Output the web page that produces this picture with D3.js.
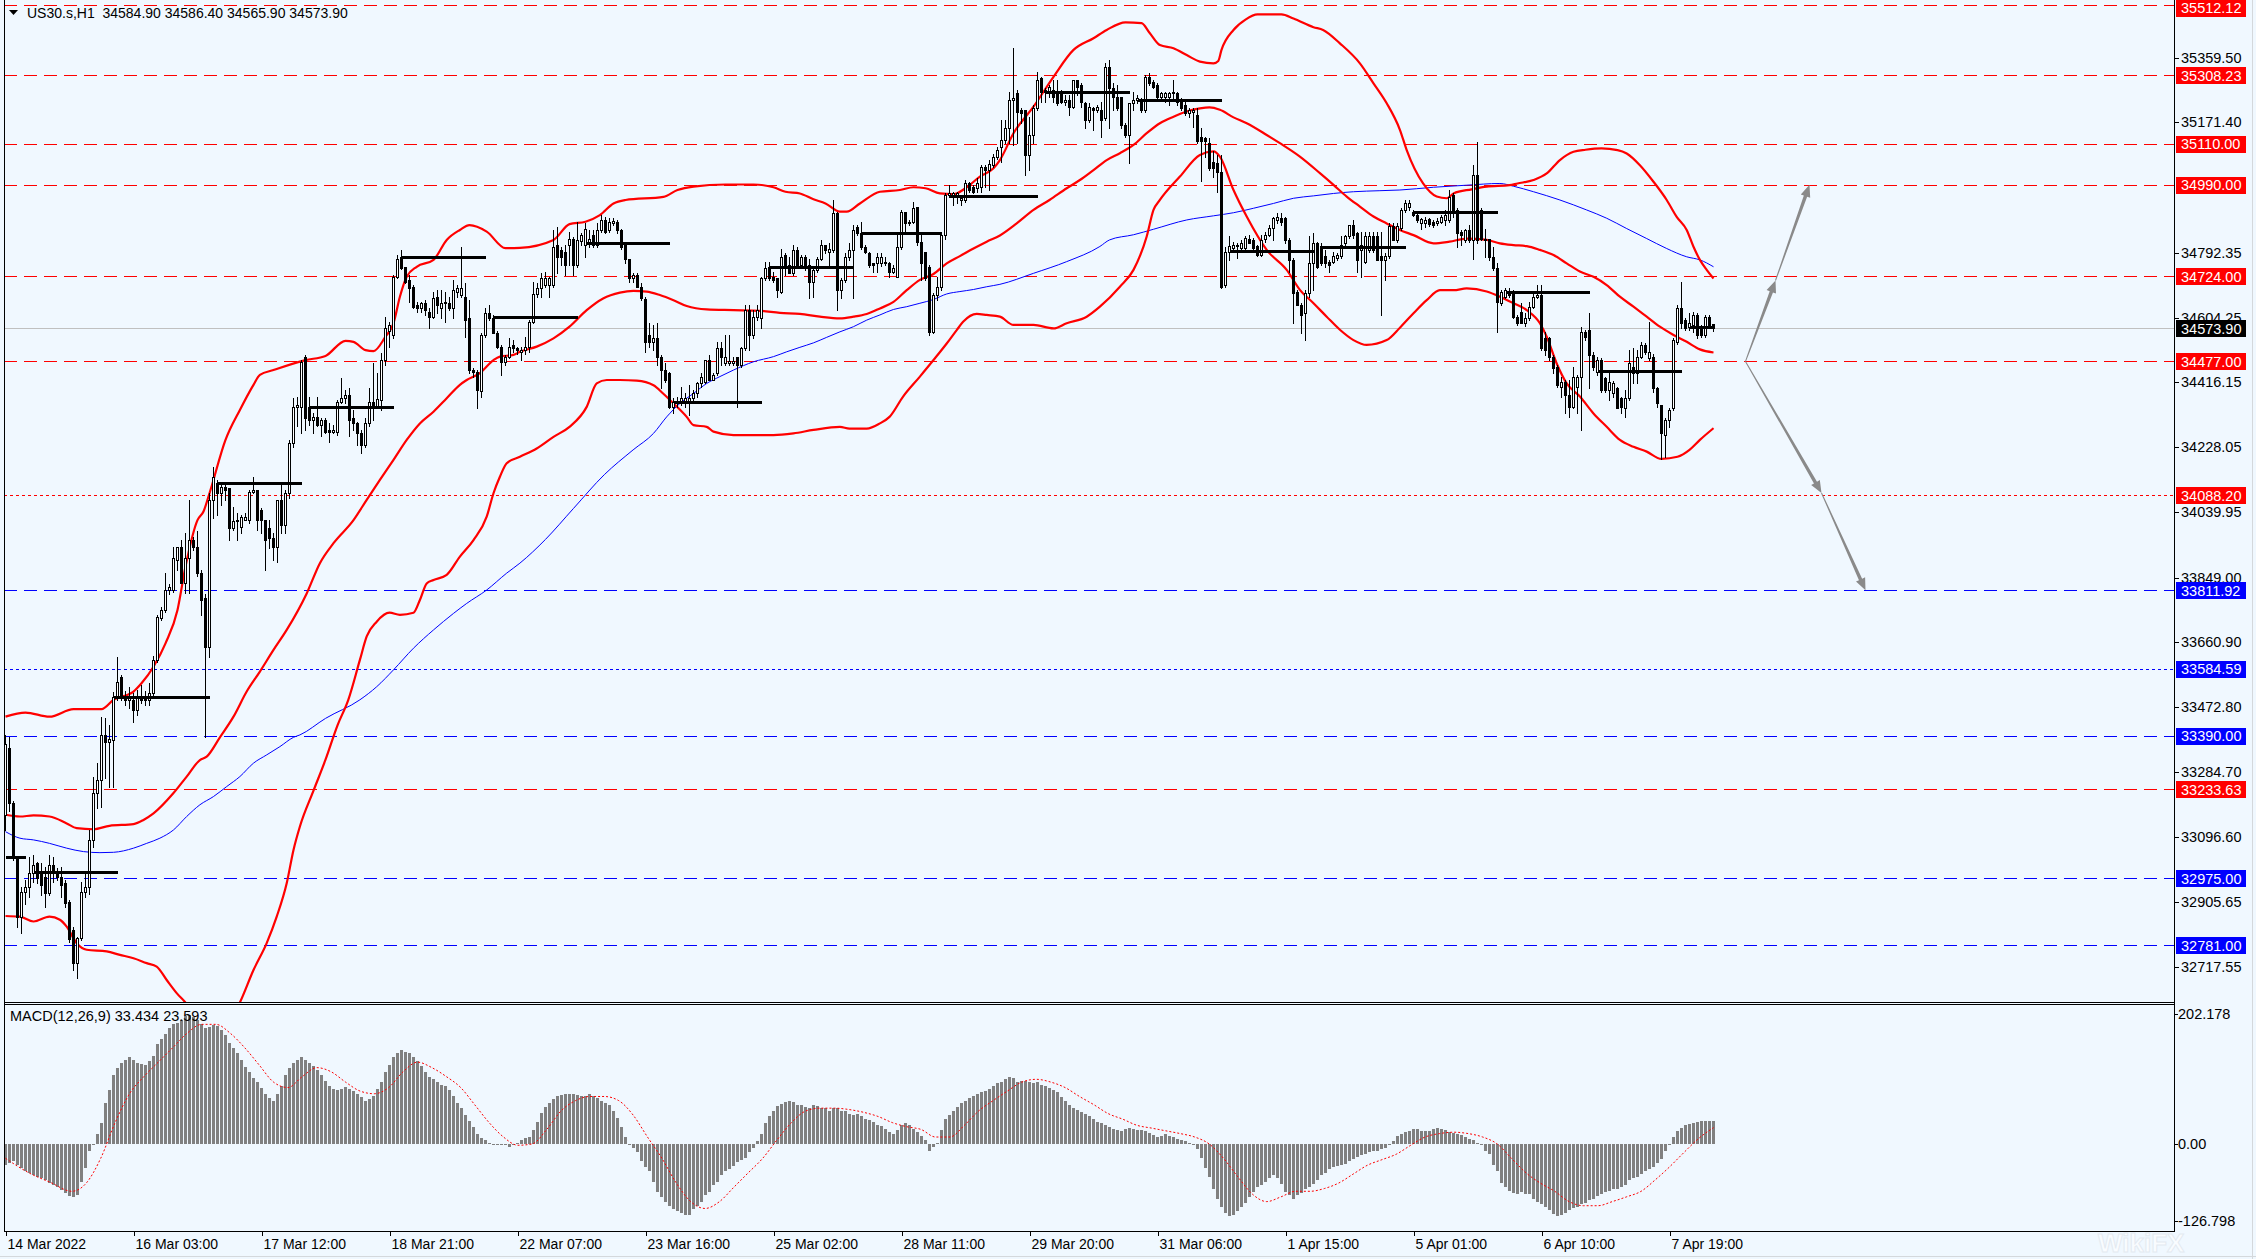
<!DOCTYPE html>
<html><head><meta charset="utf-8">
<script src="https://cdn.jsdelivr.net/npm/d3@7"></script>
<style>
html,body{margin:0;padding:0;background:#F0F8FF;overflow:hidden;}
svg{display:block;}
text{font-family:"Liberation Sans",Arial,sans-serif;}
</style></head><body>
<svg id="c" width="2256" height="1259"></svg>
<script>
// ---------------- DATA ----------------
const headerText = "US30.s,H1  34584.90 34586.40 34565.90 34573.90";
const macdTitle = "MACD(12,26,9) 33.434 23.593";
const lastPrice = 34573.90;

const opens = [
33160,33353,33193,33038,32864,32937,32951,32990,33019,32995,
32980,32932,33014,32995,32980,32961,32907,32825,32729,32801,
32937,32951,33087,33222,33260,33392,33370,33377,33503,33561,
33503,33494,33494,33464,33503,33503,33494,33513,33610,33731,
33755,33813,33813,33900,33939,33833,33905,33958,33939,33862,
33789,33648,34075,34123,34094,34113,34108,33992,34012,33997,
34017,34017,34099,34104,34045,34017,33992,33963,33939,34075,
34002,34094,34239,34346,34346,34491,34346,34307,34317,34292,
34307,34278,34273,34273,34360,34370,34380,34312,34297,34270,
34234,34297,34360,34346,34365,34481,34565,34554,34723,34781,
34752,34713,34694,34641,34631,34646,34622,34607,34665,34631,
34646,34646,34631,34680,34670,34665,34602,34452,34447,34390,
34554,34617,34602,34559,34520,34476,34491,34525,34515,34505,
34510,34520,34592,34673,34689,34699,34699,34699,34815,34801,
34796,34815,34834,34757,34828,34815,34820,34844,34815,34859,
34888,34859,34878,34883,34859,34815,34776,34718,34728,34694,
34657,34554,34534,34544,34491,34452,34443,34345,34355,34360,
34360,34360,34370,34384,34413,34418,34481,34423,34443,34515,
34471,34471,34471,34491,34467,34515,34626,34554,34607,34602,
34718,34752,34723,34718,34680,34786,34757,34733,34801,34757,
34781,34757,34709,34743,34776,34815,34796,34801,34907,34684,
34714,34781,34801,34868,34849,34810,34792,34762,34762,34762,
34767,34762,34738,34723,34810,34912,34878,34883,34926,34825,
34796,34752,34563,34670,34694,34844,34960,34960,34956,34946,
34946,34994,34985,34980,34985,35043,35033,35047,35072,35101,
35120,35154,35237,35256,35208,35208,35077,35135,35212,35300,
35266,35261,35266,35261,35261,35232,35237,35217,35295,35280,
35227,35178,35212,35208,35208,35183,35333,35270,35246,35246,
35164,35135,35227,35237,35232,35208,35304,35290,35280,35246,
35246,35246,35256,35256,35237,35222,35198,35203,35193,35130,
35125,35111,35057,35053,35028,34699,34796,34806,34811,34806,
34806,34832,34830,34811,34786,34832,34845,34864,34888,34893,
34893,34830,34772,34680,34641,34617,34675,34762,34820,34811,
34782,34767,34767,34777,34782,34820,34840,34874,34849,34801,
34767,34801,34840,34840,34782,34772,34782,34869,34830,34864,
34917,34926,34912,34902,34878,34878,34890,34883,34878,34883,
34888,34888,34960,34917,34854,34830,34859,34830,35018,34917,
34834,34834,34781,34747,34646,34665,34680,34680,34607,34620,
34588,34602,34636,34665,34670,34544,34544,34491,34462,34404,
34418,34380,34345,34404,34433,34563,34568,34496,34447,34481,
34428,34394,34384,34399,34370,34341,34370,34462,34443,34491,
34525,34486,34491,34399,34350,34263,34307,34341,34534,34631,
34597,34578,34583,34612,34578,34554,34607,34584.9];

const highs = [
33392,33385,33200,33040,32951,32971,33038,33043,33024,33019,
33009,33043,33038,33005,33009,32971,32912,32835,32805,32966,
32990,33116,33271,33310,33445,33440,33420,33518,33619,33566,
33520,33530,33513,33523,33537,33520,33542,33620,33740,33765,
33862,33830,33939,33939,33958,33978,34075,33968,33983,33872,
33800,34094,34171,34133,34128,34123,34108,34055,34036,34031,
34036,34104,34142,34104,34050,34017,34016,33978,34075,34128,
34104,34249,34370,34375,34481,34496,34375,34326,34375,34312,
34312,34297,34292,34365,34428,34394,34399,34336,34302,34278,
34312,34399,34472,34443,34501,34607,34593,34728,34785,34801,
34752,34728,34699,34651,34651,34656,34631,34680,34685,34685,
34680,34665,34714,34699,34810,34704,34656,34457,34452,34559,
34631,34641,34612,34564,34525,34496,34544,34539,34520,34520,
34549,34597,34709,34704,34733,34738,34723,34859,34868,34810,
34815,34854,34839,34883,34849,34878,34859,34859,34878,34902,
34897,34893,34893,34888,34863,34820,34776,34733,34733,34704,
34665,34588,34583,34588,34496,34471,34447,34370,34375,34404,
34384,34408,34394,34418,34443,34481,34496,34443,34534,34534,
34554,34554,34491,34491,34520,34641,34641,34626,34641,34723,
34767,34767,34738,34718,34805,34791,34781,34815,34810,34786,
34786,34776,34747,34781,34830,34815,34820,34946,34912,34718,
34791,34820,34873,34873,34883,34815,34796,34762,34791,34791,
34781,34767,34757,34849,34917,34912,34888,34941,34926,34844,
34796,34757,34675,34723,34844,34965,34989,34970,34970,34956,
35004,34999,34989,35009,35047,35047,35062,35081,35100,35178,
35178,35261,35387,35266,35212,35208,35188,35222,35319,35304,
35270,35280,35295,35295,35266,35251,35251,35295,35295,35285,
35232,35227,35217,35222,35232,35343,35353,35285,35280,35246,
35169,35227,35261,35250,35241,35309,35314,35295,35285,35261,
35261,35261,35295,35261,35241,35237,35212,35212,35212,35154,
35130,35125,35087,35077,35077,34810,34840,34825,34820,34830,
34840,34845,34835,34815,34845,34854,34874,34898,34907,34907,
34898,34835,34777,34685,34646,34685,34840,34849,34825,34820,
34801,34772,34796,34791,34840,34845,34874,34888,34854,34854,
34854,34854,34854,34854,34854,34791,34878,34878,34878,34922,
34946,34946,34917,34907,34893,34897,34893,34888,34893,34902,
34917,34975,34965,34922,34859,34863,34873,35047,35115,34922,
34863,34834,34810,34762,34684,34689,34689,34684,34612,34646,
34617,34650,34680,34699,34699,34563,34549,34496,34467,34433,
34423,34423,34462,34438,34578,34568,34617,34505,34490,34486,
34433,34447,34420,34404,34375,34394,34510,34515,34510,34534,
34530,34592,34500,34404,34350,34312,34341,34544,34641,34709,
34602,34617,34621,34617,34583,34612,34612,34586.4];

const lows = [
33116,33170,33030,32835,32816,32900,32922,32966,32961,32927,
32893,32927,32966,32970,32922,32893,32790,32709,32685,32795,
32922,32930,33067,33180,33184,33266,33242,33242,33494,33494,
33480,33470,33430,33450,33485,33480,33479,33500,33605,33726,
33750,33800,33808,33870,33833,33804,33804,33930,33855,33740,
33387,33619,34021,34031,34060,34075,33958,33987,33958,33978,
34016,34007,34094,33987,33978,33871,33934,33900,33895,33978,
33978,34080,34229,34288,34268,34278,34292,34268,34288,34259,
34268,34244,34268,34263,34355,34355,34259,34278,34234,34210,
34229,34288,34307,34341,34336,34467,34520,34544,34718,34745,
34705,34651,34631,34622,34622,34612,34573,34602,34617,34602,
34593,34627,34602,34665,34665,34549,34442,34433,34341,34375,
34549,34597,34559,34515,34438,34466,34486,34505,34500,34481,
34500,34505,34588,34665,34665,34694,34665,34694,34733,34757,
34728,34757,34728,34752,34815,34781,34810,34810,34810,34854,
34849,34854,34873,34849,34805,34762,34709,34709,34694,34655,
34505,34520,34510,34467,34399,34418,34341,34326,34345,34350,
34345,34321,34355,34375,34404,34413,34423,34423,34438,34467,
34467,34467,34467,34345,34462,34510,34510,34544,34597,34573,
34714,34714,34709,34665,34675,34728,34733,34728,34747,34747,
34743,34660,34665,34738,34772,34791,34757,34796,34626,34660,
34709,34772,34660,34844,34805,34791,34752,34738,34738,34755,
34757,34723,34733,34723,34805,34854,34873,34878,34815,34714,
34714,34554,34559,34655,34684,34834,34956,34931,34936,34931,
34941,34970,34965,34970,34970,34985,34975,35043,35065,35057,
35111,35111,35106,35111,35169,35019,35033,35111,35208,35232,
35232,35246,35232,35222,35227,35222,35193,35212,35251,35217,
35154,35174,35150,35203,35130,35178,35154,35208,35208,35154,
35130,35053,35208,35227,35203,35203,35280,35270,35241,35237,
35232,35222,35237,35222,35208,35193,35188,35159,35111,35000,
35072,35033,35014,34970,34689,34694,34772,34796,34777,34801,
34801,34820,34801,34782,34782,34825,34840,34830,34878,34874,
34820,34738,34588,34641,34559,34539,34665,34685,34748,34757,
34752,34738,34762,34772,34777,34811,34835,34835,34738,34723,
34762,34796,34796,34772,34612,34714,34777,34830,34825,34859,
34912,34917,34900,34883,34863,34868,34871,34868,34873,34878,
34873,34883,34897,34810,34815,34825,34825,34776,34820,34830,
34781,34772,34743,34563,34641,34660,34665,34602,34583,34588,
34580,34597,34631,34660,34510,34496,34481,34443,34404,34375,
34326,34316,34341,34326,34278,34540,34399,34452,34438,34389,
34389,34365,34375,34341,34326,34316,34365,34413,34413,34486,
34500,34481,34389,34345,34195,34200,34287,34336,34529,34573,
34568,34568,34563,34544,34549,34549,34573,34565.9];

const closes = [
33365,33193,33034,32864,32937,32951,32990,33014,32975,32956,
32932,33014,32995,32980,32956,32903,32800,32729,32801,32937,
32951,33087,33222,33260,33392,33370,33380,33503,33547,33503,
33494,33503,33464,33498,33494,33494,33513,33610,33736,33755,
33813,33823,33905,33939,33833,33905,33958,33939,33862,33784,
33648,34075,34142,34094,34113,34104,33992,34012,34017,34026,
34026,34099,34104,34017,34017,33958,33963,33939,34075,34002,
34094,34239,34346,34350,34476,34312,34307,34317,34293,34307,
34273,34273,34278,34360,34370,34380,34307,34297,34268,34234,
34297,34360,34351,34367,34481,34573,34583,34723,34775,34747,
34709,34689,34636,34631,34646,34626,34607,34660,34641,34646,
34651,34631,34684,34689,34689,34597,34452,34447,34394,34554,
34617,34602,34559,34520,34476,34491,34520,34515,34510,34510,
34520,34592,34673,34689,34718,34718,34718,34810,34781,34781,
34757,34834,34757,34830,34844,34863,34834,34815,34859,34888,
34854,34883,34885,34859,34810,34776,34718,34728,34694,34660,
34534,34534,34544,34491,34452,34423,34345,34360,34360,34370,
34370,34370,34384,34413,34433,34481,34423,34438,34515,34491,
34491,34479,34479,34467,34515,34626,34554,34607,34626,34718,
34747,34718,34714,34684,34781,34757,34733,34801,34752,34781,
34757,34709,34743,34776,34815,34801,34805,34907,34684,34714,
34781,34801,34859,34849,34810,34796,34757,34757,34781,34781,
34762,34738,34747,34810,34912,34878,34883,34922,34825,34762,
34718,34563,34670,34694,34844,34960,34965,34965,34965,34951,
34994,34975,34970,34994,35043,35033,35052,35072,35091,35120,
35154,35237,35241,35203,35198,35077,35135,35212,35295,35261,
35261,35275,35246,35227,35232,35237,35217,35295,35275,35232,
35178,35217,35208,35215,35178,35333,35270,35246,35212,35164,
35135,35227,35237,35241,35208,35304,35285,35275,35246,35256,
35256,35256,35261,35232,35212,35198,35208,35208,35116,35116,
35116,35038,35038,35028,34694,34796,34811,34815,34815,34820,
34835,34822,34806,34786,34830,34845,34864,34893,34898,34883,
34830,34772,34675,34641,34612,34675,34762,34820,34752,34762,
34762,34757,34782,34786,34815,34840,34874,34845,34772,34815,
34840,34840,34801,34772,34772,34782,34869,34830,34869,34917,
34936,34936,34902,34888,34890,34888,34876,34873,34885,34897,
34902,34956,34917,34849,34844,34859,34830,35018,34830,34834,
34830,34781,34747,34650,34680,34684,34670,34607,34588,34588,
34602,34636,34665,34670,34515,34510,34491,34457,34408,34418,
34380,34345,34433,34433,34563,34549,34496,34462,34481,34394,
34394,34418,34413,34341,34345,34370,34471,34443,34491,34525,
34505,34505,34399,34355,34268,34307,34336,34539,34631,34588,
34573,34588,34612,34554,34554,34607,34583,34573.9];

// MACD histogram (one value per bar) and signal line samples [bar, value]
const macdHist = [
-31,-28,-25,-30,-35,-40,-42,-45,-48,-50,
-53,-57,-60,-63,-67,-72,-76,-77,-74,-55,
-35,-10,-2,15,31,60,78,100,110,118,
122,126,122,118,116,115,120,128,146,152,
160,168,174,176,180,186,188,184,180,174,
168,170,173,172,166,158,147,140,132,122,
112,104,96,90,82,73,67,63,72,84,
100,110,118,122,126,122,118,113,108,100,
92,84,80,78,80,83,80,77,73,68,
63,66,70,80,90,104,115,126,132,136,
134,132,126,120,113,104,98,94,90,86,
84,79,70,60,52,42,33,25,15,8,
5,2,0,0,0,-2,-4,-2,2,6,
8,10,20,32,45,54,60,66,69,71,
73,73,72,71,69,70,72,70,67,63,
60,56,48,38,25,10,0,-6,-12,-25,
-34,-40,-55,-70,-78,-84,-90,-95,-98,-100,
-104,-103,-95,-90,-84,-75,-70,-60,-55,-45,
-40,-36,-32,-27,-23,-20,-12,-6,4,15,
30,40,48,55,58,61,62,61,57,57,
54,52,56,55,52,52,48,52,52,48,
48,44,42,44,40,36,35,32,28,26,
22,18,15,20,27,31,27,22,18,12,
6,-10,-4,2,20,36,42,48,54,60,
63,67,69,73,75,77,80,84,88,90,
94,98,96,90,92,91,90,88,90,86,
84,82,78,75,68,62,57,52,50,46,
44,40,36,32,30,27,24,22,20,19,
22,23,21,20,20,19,16,13,10,12,
15,12,10,7,5,4,2,0,-8,-21,
-35,-48,-65,-80,-92,-100,-105,-103,-98,-92,
-86,-78,-70,-63,-60,-55,-50,-45,-50,-58,
-70,-75,-80,-75,-72,-66,-63,-58,-52,-46,
-42,-36,-33,-32,-30,-29,-25,-22,-19,-16,
-15,-12,-10,-10,-8,-6,0,4,12,15,
17,19,22,21,19,19,19,21,23,21,
20,18,16,15,13,10,7,5,2,-2,
-10,-15,-30,-40,-57,-63,-68,-71,-73,-70,
-73,-73,-80,-84,-88,-92,-96,-102,-105,-104,
-100,-96,-94,-92,-88,-86,-82,-80,-76,-73,
-70,-69,-66,-65,-63,-60,-52,-50,-48,-44,
-40,-36,-33,-28,-22,-10,0,10,19,23,
27,29,31,32,33,33,33,33.434];

const macdSignal = [
[0,-21],[5.8,-42],[11.2,-56],[16.6,-69],[20.2,-57],[23.8,-21],[27.4,31],[31,73],[34.6,98],[38.2,119],
[41.8,140],[45.4,161],[49,174],[52.6,174],[56.2,161],[59.8,140],[63.4,115],[67,90],[70.6,82],[74.2,98],
[77.8,111],[81.4,105],[85,90],[88.6,77],[92.2,73],[95.8,82],[99.4,105],[103,119],[106.6,111],[110.2,98],
[113.8,82],[117.3,57],[120.9,31],[124.5,10],[128.1,-2],[131.7,0],[135.3,21],[138.9,48],[142.5,63],[146.1,69],
[149.7,69],[153.3,63],[156.9,42],[160.5,10],[164.1,-21],[167.7,-57],[171.3,-84],[174.9,-94],[178.5,-84],[182.1,-63],
[185.7,-42],[189.3,-21],[192.9,6],[196.5,31],[200.1,48],[203.7,52],[207.3,52],[210.9,50],[214.5,46],[218.1,40],
[221.7,31],[225.3,25],[228.9,21],[232.5,10],[236.1,10],[239.7,27],[243.3,48],[246.9,63],[250.5,77],[254.1,90],
[257.7,94],[261.3,90],[264.9,82],[268.5,69],[272.1,57],[275.7,44],[279.3,36],[282.9,27],[286.5,23],[290.1,19],
[293.7,15],[297.3,10],[300.9,0],[304.5,-21],[308.1,-48],[311.7,-73],[315.3,-84],[318.9,-77],[322.5,-69],[326.1,-69],
[329.7,-65],[333.3,-57],[336.9,-44],[340.5,-31],[344.1,-23],[347.7,-15],[351.3,-2],[354.9,10],[358.5,15],[362.1,17],
[365.7,15],[369.3,10],[372.9,0],[376.5,-21],[380.1,-42],[383.7,-57],[387.3,-69],[390.9,-84],[394.5,-90],[398.1,-90],
[401.7,-84],[405.3,-77],[408.9,-69],[412.5,-52],[416.1,-33],[419.7,-12],[423.3,8],[427,23.593]];

// Bollinger bands (20) and blue moving average, sampled [bar, price]
const bbUpper = [
[0,33445],[5,33457],[11,33445],[17,33467],[24,33467],[27,33494],[32,33518],[34,33542],[37,33590],[40,33658],
[43,33755],[45,33881],[48,34016],[49.5,34041],[51,34094],[55,34249],[58.6,34336],[62,34409],[63.6,34438],[67,34452],
[75,34481],[80,34493],[85,34537],[87,34534],[90,34510],[92,34507],[95,34549],[97,34588],[98.6,34665],[100.3,34723],
[102.8,34752],[107,34772],[110.3,34830],[113.6,34859],[116,34873],[120.3,34854],[125,34806],[128.6,34807],[137,34830],[141,34876],
[145,34883],[148.6,34902],[152,34936],[155,34946],[164.5,34955],[168,34975],[172,34985],[180,34991],[187,34991],[192,34983],
[195,34970],[198.6,34965],[202,34948],[205,34936],[208.6,34912],[210.3,34912],[213.6,34936],[218.6,34970],[223.6,34975],[227,34983],
[230,34980],[233.6,34965],[237,34963],[240,34980],[243.6,35014],[247,35038],[248.6,35062],[252,35140],[257,35217],[262,35304],
[267,35382],[272,35416],[275.3,35440],[280,35462],[284,35460],[286,35432],[288.6,35396],[292,35387],[295.3,35367],[298.6,35348],
[302,35343],[303.2,35350],[304,35382],[307,35440],[310,35470],[313,35485],[319,35485],[322,35473],[327,35448],[329.4,35440],
[333.6,35401],[338.6,35343],[342,35285],[345.3,35227],[348.6,35150],[350.3,35091],[354.4,34994],[357.8,34956],[360.3,34951],[362,34965],
[366.5,34977],[370.3,34985],[376,34989],[378,34994],[382,35004],[385.3,35023],[388.6,35062],[392,35086],[395,35092],[399,35096],
[403,35091],[405.3,35081],[408.6,35047],[412,34999],[415.3,34946],[417.8,34897],[420.3,34859],[422,34810],[423.6,34772],[425.3,34743],[427,34718]];

const bbMiddle = [
[0,33160],[3.6,33155],[7,33158],[11,33155],[15.3,33135],[17.8,33121],[22,33118],[26,33128],[32,33133],[34.5,33145],
[37,33164],[42,33223],[45.3,33271],[48.6,33319],[50.3,33329],[53.6,33385],[57,33445],[60.3,33518],[63.6,33576],[67,33639],
[70.3,33697],[75.3,33803],[78.6,33891],[82,33949],[87,34016],[90.3,34075],[93.6,34133],[97,34191],[100.3,34249],[103.6,34297],
[107,34331],[110.3,34370],[113.6,34409],[115.3,34423],[118.6,34443],[122,34481],[123.6,34491],[127,34496],[128.6,34505],[132.8,34520],
[137,34544],[141,34578],[145.3,34626],[149.4,34660],[153.6,34677],[157,34682],[160.3,34680],[163.6,34670],[167,34655],[170.3,34638],
[175.3,34628],[182,34626],[188.6,34624],[193.6,34618],[198.6,34615],[203.6,34607],[208.6,34602],[212,34607],[215.3,34615],[218.6,34631],
[222,34650],[225.3,34684],[228.6,34714],[232,34731],[235.3,34762],[238.6,34783],[242,34805],[245.3,34825],[248.6,34843],[252.8,34878],
[257,34917],[261,34946],[265.3,34980],[268.6,35004],[272,35033],[275.3,35062],[278.6,35082],[282,35106],[285.3,35140],[288.6,35169],
[292,35188],[295.3,35203],[298.6,35212],[301,35215],[303.6,35208],[307,35186],[310.3,35169],[315.3,35135],[318.6,35111],[323.6,35072],
[328.6,35024],[332,34990],[335.3,34956],[338.6,34927],[342,34898],[345.3,34878],[348.6,34859],[352,34844],[357,34820],[361,34825],
[365.3,34834],[370.3,34830],[373.6,34820],[377,34815],[380.3,34812],[383.6,34801],[387,34786],[390.3,34762],[393.6,34738],[397,34723],
[400.3,34699],[403.6,34665],[407,34636],[410.3,34607],[413.6,34578],[417,34554],[420.3,34534],[423.6,34512],[427,34503]];

const bbLower = [
[0,32866],[3.6,32864],[7,32850],[11,32864],[13.6,32855],[15.3,32835],[17.8,32787],[20.3,32768],[25.3,32763],[28.6,32753],
[32,32743],[35.3,32729],[37.8,32719],[40.3,32680],[42.8,32642],[45.3,32610],[48,32560],[52,32530],[55,32545],[58.6,32615],
[62,32709],[65.3,32787],[67.8,32864],[70.3,32961],[72,33058],[73.6,33126],[77,33230],[80,33320],[83,33420],[85.7,33494],
[88.6,33610],[90.3,33678],[92.8,33721],[96,33747],[98.6,33741],[102,33747],[103.6,33784],[105.3,33832],[107,33842],[110.3,33857],
[113.6,33910],[117,33958],[120.3,34026],[122,34094],[123.6,34142],[125.3,34181],[128.6,34200],[132.8,34224],[137,34258],[141,34287],
[145.3,34345],[147.8,34413],[150.3,34423],[153.6,34423],[157.8,34421],[162,34408],[164.4,34384],[167,34355],[170.3,34316],[172,34292],
[175.3,34287],[177,34273],[182,34263],[192,34263],[197,34268],[202,34278],[208.6,34287],[211,34282],[215.3,34282],[218.6,34297],
[221,34316],[224.4,34375],[228.6,34433],[232,34481],[235.3,34529],[237.8,34568],[239.4,34592],[242.8,34615],[245.3,34612],[248.6,34607],
[252,34583],[257,34583],[262,34573],[265.3,34588],[270.3,34607],[273.6,34636],[278.6,34694],[282,34743],[285.3,34840],[287,34917],
[288.6,34946],[293.6,35014],[298.6,35077],[302,35087],[303.6,35072],[307,34975],[310.3,34898],[315.3,34801],[320.3,34743],[323.6,34685],
[327,34646],[330.3,34607],[333.6,34569],[337,34539],[340.3,34525],[345.3,34539],[348.6,34575],[352,34617],[355.3,34655],[358.6,34684],
[362,34684],[365.3,34689],[370.3,34680],[373.6,34665],[377,34646],[380.3,34626],[383.6,34588],[385.3,34549],[387.8,34471],[390.3,34413],
[393.6,34375],[397,34326],[400.3,34287],[403.6,34249],[407,34229],[410.3,34215],[414,34194],[418,34200],[421,34220],[423.6,34249],[427,34283]];

const maBlue = [
[0,33111],[3.6,33092],[7,33087],[11,33077],[15.3,33063],[19.5,33053],[23.6,33050],[27,33051],[32,33063],[35.3,33077],
[38.6,33092],[42,33116],[45.3,33155],[48.6,33189],[52,33213],[55.3,33242],[58.6,33271],[62,33310],[65.3,33334],[68.6,33358],
[72,33385],[73.6,33392],[80,33440],[88.6,33494],[92.8,33532],[97,33581],[102,33644],[107,33697],[112,33745],[115.3,33774],
[120.3,33813],[125.3,33862],[128.6,33891],[135,33960],[142,34050],[149.7,34148],[156.9,34220],[162,34268],[165.3,34316],[168.6,34355],
[172,34384],[175.3,34413],[178.6,34433],[182,34452],[187,34476],[192,34491],[195.3,34505],[198.6,34518],[202,34531],[205.3,34547],
[208.6,34563],[212,34578],[215.3,34597],[218.6,34612],[222,34628],[225.3,34636],[228.6,34646],[232,34657],[235.3,34673],[238.6,34680],
[242,34686],[245.3,34694],[248.6,34701],[257,34733],[265.3,34767],[273.6,34811],[276,34830],[282,34845],[287,34861],[295.3,34888],
[302,34900],[307,34909],[312,34922],[317,34936],[322,34951],[327,34958],[332,34965],[337,34970],[343.6,34973],[348.6,34975],
[357,34983],[365.3,34989],[373.6,34994],[377,34986],[382,34970],[388.6,34946],[395.3,34917],[400.3,34893],[405.3,34863],[410.3,34834],
[415.3,34805],[420.3,34781],[423.6,34772],[427,34752]];

// daily open segments [fromBar, toBar, price]
const dailyLines = [
[0,5,33038],[7,28,32995],[27,51,33503],[53,74,34125],[76,97,34346],[99,120,34781],[122,143,34605],
[145,166,34822],[167,189,34360],[191,212,34752],[214,234,34851],[236,258,34959],[260,281,35261],
[283,304,35237],[306,327,34799],[329,350,34809],[352,373,34912],[375,396,34680],[398,419,34450],[421,427,34578]];

// horizontal levels
const levelPrices = [35512.12,35308.23,35110.00,34990.00,34724.00,34477.00,34088.20,33811.92,33584.59,33390.00,33233.63,32975.00,32781.00];
const levelColors = ["red","red","red","red","red","red","red","blue","blue","blue","red","blue","blue"];
const levelStyles = ["dash","dash","dash","dash","dash","dash","dot","dash","dot","dash","dash","dash","dash"];

const priceTicks = [35359.50,35171.40,34792.35,34604.25,34416.15,34228.05,34039.95,33849.00,33660.90,33472.80,33284.70,33096.60,32905.65,32717.55];
const macdTicks = [202.178,0,-126.798];
const timeLabels = ["14 Mar 2022","16 Mar 03:00","17 Mar 12:00","18 Mar 21:00","22 Mar 07:00","23 Mar 16:00","25 Mar 02:00","28 Mar 11:00","29 Mar 20:00","31 Mar 06:00","1 Apr 15:00","5 Apr 01:00","6 Apr 10:00","7 Apr 19:00"];
const timeLabelBars = [0,32,64,96,128,160,192,224,256,288,320,352,384,416];

// projection arrows (bar, price)
const arrowStart = [435,34477];
const arrowUp = [[442.5,34712],[451,34990]];
const arrowDown = [[454,34095],[465,33812]];

// ---------------- DRAW ----------------
const W=2256,H=1259, axisX=2174, leftX=4;
const mainBottom=1002, macdTopY=1005, macdBottom=1231;
const svg = d3.select('#c');
const x = d3.scaleLinear().domain([0,1]).range([5.5,9.5]);
const y = d3.scaleLinear().domain([32616.1,35527]).range([mainBottom,0]);
const ym = d3.scaleLinear().domain([-126.798,202.178]).range([macdBottom,macdTopY]);
const snap = v => Math.round(v)+0.5;

svg.append('rect').attr('width',W).attr('height',H).attr('fill','#F0F8FF');
const defs = svg.append('defs');
defs.append('clipPath').attr('id','cm').append('rect').attr('x',leftX+1).attr('y',0).attr('width',axisX-leftX-1).attr('height',mainBottom);
defs.append('clipPath').attr('id','cd').append('rect').attr('x',leftX+1).attr('y',macdTopY).attr('width',axisX-leftX-1).attr('height',macdBottom-macdTopY);

const main = svg.append('g').attr('clip-path','url(#cm)');
const COLORS = {red:'#FF0000', blue:'#0000FF'};

// level lines
levelPrices.forEach((p,k)=>{
  main.append('line').attr('x1',leftX).attr('x2',axisX)
    .attr('y1',snap(y(p))).attr('y2',snap(y(p)))
    .attr('stroke',COLORS[levelColors[k]]).attr('stroke-width',1)
    .attr('stroke-dasharray',levelStyles[k]==='dash'?'13,7':'3,3')
    .attr('shape-rendering','crispEdges');
});
// current price line
main.append('line').attr('x1',leftX).attr('x2',axisX).attr('y1',snap(y(lastPrice))).attr('y2',snap(y(lastPrice)))
  .attr('stroke','#C0C0C0').attr('stroke-width',1).attr('shape-rendering','crispEdges');

// bands & MA
const lineGen = d3.line().x(d=>x(d[0])).y(d=>y(d[1])).curve(d3.curveMonotoneX);
main.append('path').datum(maBlue).attr('d',lineGen).attr('fill','none').attr('stroke','#0000FF').attr('stroke-width',1);
[bbUpper,bbMiddle,bbLower].forEach(b=>{
  main.append('path').datum(b).attr('d',lineGen).attr('fill','none').attr('stroke','#FF0000').attr('stroke-width',2.2);
});

// candles
const cg = main.append('g').attr('shape-rendering','crispEdges');
closes.forEach((c,i)=>{
  const o=opens[i], h=highs[i], l=lows[i];
  const cx = x(i);
  cg.append('line').attr('x1',cx).attr('x2',cx).attr('y1',Math.round(y(h))).attr('y2',Math.round(y(l))+1)
    .attr('stroke','#000').attr('stroke-width',1);
  const top = Math.round(y(Math.max(o,c))), bot = Math.round(y(Math.min(o,c)));
  cg.append('rect').attr('x',cx-1).attr('y',top+0.5).attr('width',2).attr('height',Math.max(0,bot-top))
    .attr('fill', c>=o ? '#FFFFFF' : '#000000').attr('stroke','#000').attr('stroke-width',1);
});

// daily lines
dailyLines.forEach(d=>{
  main.append('line').attr('x1',x(d[0])).attr('x2',x(d[1])).attr('y1',Math.round(y(d[2]))+0.5).attr('y2',Math.round(y(d[2]))+0.5)
    .attr('stroke','#000').attr('stroke-width',3).attr('shape-rendering','crispEdges');
});

// arrows
function taperArrow(a,b,w0,w1,headL,headW){
  const ax=x(a[0]), ay=y(a[1]), bx=x(b[0]), by=y(b[1]);
  const dx=bx-ax, dy=by-ay, len=Math.hypot(dx,dy), ux=dx/len, uy=dy/len, nx=-uy, ny=ux;
  const hx=bx-ux*headL, hy=by-uy*headL;
  const pts=[[ax+nx*w0/2,ay+ny*w0/2],[hx+nx*w1/2,hy+ny*w1/2],[hx+nx*headW,hy+ny*headW],[bx,by],
             [hx-nx*headW,hy-ny*headW],[hx-nx*w1/2,hy-ny*w1/2],[ax-nx*w0/2,ay-ny*w0/2]];
  main.append('polygon').attr('points',pts.map(p=>p.join(',')).join(' ')).attr('fill','#8A8A8A');
}
taperArrow(arrowStart,arrowUp[0],1,3.5,12,5);
taperArrow(arrowUp[0],arrowUp[1],1,3.5,12,5);
taperArrow(arrowStart,arrowDown[0],1,3.5,12,5);
taperArrow(arrowDown[0],arrowDown[1],1,3.5,12,5);

// header
svg.append('polygon').attr('points','9,10 18,10 13.5,15').attr('fill','#000');
svg.append('text').attr('x',27).attr('y',18).attr('font-size',14).attr('fill','#000')
  .style('white-space','pre').text(headerText);

// MACD panel
const mg = svg.append('g').attr('clip-path','url(#cd)');
mg.append('g').attr('shape-rendering','crispEdges').selectAll('rect').data(macdHist).join('rect')
  .attr('x',(d,i)=>x(i)-1.5).attr('width',3)
  .attr('y',d=>Math.round(ym(Math.max(d,0)))).attr('height',d=>Math.max(1,Math.abs(Math.round(ym(d))-Math.round(ym(0)))))
  .attr('fill','#808080');
mg.append('path').datum(macdSignal).attr('d',d3.line().x(d=>x(d[0])).y(d=>ym(d[1])).curve(d3.curveMonotoneX))
  .attr('fill','none').attr('stroke','#FF0000').attr('stroke-width',1).attr('stroke-dasharray','2,2');
svg.append('text').attr('x',10).attr('y',1021).attr('font-size',14.5).attr('fill','#000').text(macdTitle);

// watermark (faint, behind axis texts)
svg.append('text').attr('x',2098).attr('y',1252).attr('font-size',26).attr('font-weight','bold')
  .attr('fill','#FFFFFF').attr('opacity',0.6).attr('stroke','#DCE2E8').attr('stroke-width',1).text('WikiFX');

// frames
const fr = svg.append('g').attr('stroke','#000').attr('stroke-width',1).attr('shape-rendering','crispEdges');
fr.append('line').attr('x1',leftX+0.5).attr('x2',leftX+0.5).attr('y1',0).attr('y2',macdBottom+0.5);
fr.append('line').attr('x1',axisX+0.5).attr('x2',axisX+0.5).attr('y1',0).attr('y2',macdBottom+0.5);
fr.append('line').attr('x1',leftX).attr('x2',axisX+1).attr('y1',mainBottom+0.5).attr('y2',mainBottom+0.5);
fr.append('line').attr('x1',leftX).attr('x2',axisX+1).attr('y1',macdTopY-0.5).attr('y2',macdTopY-0.5);
fr.append('line').attr('x1',leftX).attr('x2',axisX+1).attr('y1',macdBottom+0.5).attr('y2',macdBottom+0.5);
svg.append('line').attr('x1',W-3.5).attr('x2',W-3.5).attr('y1',0).attr('y2',H).attr('stroke','#D4D8DC');
svg.append('line').attr('x1',0).attr('x2',W).attr('y1',H-2.5).attr('y2',H-2.5).attr('stroke','#D4D8DC');

// price axis ticks
priceTicks.forEach(p=>{
  const yy=snap(y(p));
  fr.append('line').attr('x1',axisX).attr('x2',axisX+5).attr('y1',yy).attr('y2',yy);
  svg.append('text').attr('x',2181).attr('y',y(p)+5).attr('font-size',14.5).attr('fill','#000').text(p.toFixed(2));
});
// level labels
levelPrices.forEach((p,k)=>{
  const yy=y(p);
  svg.append('rect').attr('x',2176).attr('y',Math.max(0,Math.round(yy)-8)).attr('width',70).attr('height',17).attr('fill',COLORS[levelColors[k]]);
  svg.append('text').attr('x',2181).attr('y',Math.max(12.5,yy+5.5)).attr('font-size',14.5).attr('fill','#FFF').text(p.toFixed(2));
});
// last price label
{
  const yy=y(lastPrice);
  svg.append('rect').attr('x',2176).attr('y',Math.round(yy)-8).attr('width',70).attr('height',17).attr('fill','#000');
  svg.append('text').attr('x',2181).attr('y',yy+5.5).attr('font-size',14.5).attr('fill','#FFF').text(lastPrice.toFixed(2));
}
// macd axis
macdTicks.forEach((v,k)=>{
  const yy = k===0 ? 1019 : (k===2 ? 1226 : ym(v)+5);
  const ty = k===0 ? 1014.5 : (k===2 ? 1221.5 : snap(ym(v)));
  fr.append('line').attr('x1',axisX).attr('x2',axisX+4).attr('y1',ty).attr('y2',ty);
  svg.append('text').attr('x',2178).attr('y',yy).attr('font-size',14.5).attr('fill','#000').text(k===1?'0.00':String(v));
});
// time axis
timeLabels.forEach((t,k)=>{
  const xx = snap(x(timeLabelBars[k]));
  fr.append('line').attr('x1',xx).attr('x2',xx).attr('y1',macdBottom).attr('y2',macdBottom+5);
  svg.append('text').attr('x',xx+1).attr('y',1249).attr('font-size',14).attr('fill','#000').text(t);
});
</script>
</body></html>
